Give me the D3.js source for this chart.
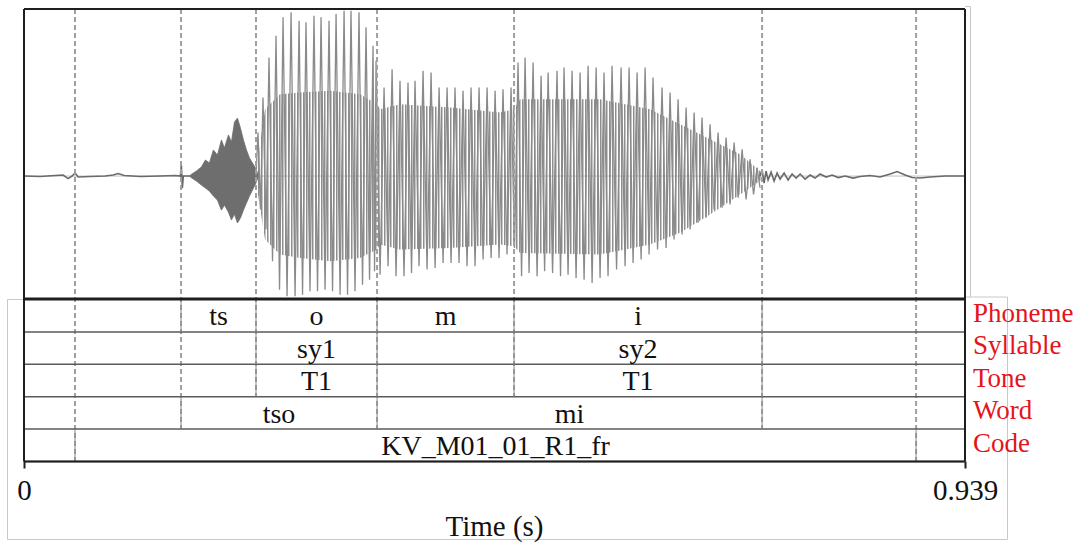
<!DOCTYPE html>
<html>
<head>
<meta charset="utf-8">
<script src="https://cdn.jsdelivr.net/npm/d3@7"></script>
<style>
  body { margin: 0; background: #fff; }
  svg { display: block; font-family: "Liberation Serif", "Times New Roman", serif; }
</style>
</head>
<body>
<svg id="chart" width="1077" height="544"></svg>
<script>
// time axis (s)
let duration = 0.939
let axisTicks = [0, 0.939]

// annotation tiers: boundaries (s) and one label per interval
let tierNames = ["Phoneme", "Syllable", "Tone", "Word", "Code"]
let phonemeBounds = [0.1567, 0.2315, 0.3523, 0.489, 0.7365]
let phonemeLabels = ["", "ts", "o", "m", "i", ""]
let syllableBounds = [0.2315, 0.3523, 0.489, 0.7365]
let syllableLabels = ["", "sy1", "", "sy2", ""]
let toneBounds = [0.2315, 0.3523, 0.489, 0.7365]
let toneLabels = ["", "T1", "", "T1", ""]
let wordBounds = [0.1567, 0.3523, 0.7365]
let wordLabels = ["", "tso", "mi", ""]
let codeBounds = [0.0509, 0.8902]
let codeLabels = ["", "KV_M01_01_R1_fr", ""]

// waveform: leading silence (ms, amplitude)
let leadMs = [0, 16, 31, 39, 44, 48, 51, 54, 66, 81, 89, 94, 100, 116, 136, 151, 156, 157, 158, 159, 166]
let leadAmp = [0, -0.003, 0.003, 0.006, -0.015, 0, 0.018, -0.006, -0.003, 0, 0.006, 0.015, 0.003, -0.003, 0, 0.003, 0, 0.066, -0.072, 0, 0]

// fricative burst envelope (ms, upper, lower)
let burstMs = [166, 172, 177, 181, 185, 189, 193, 197, 200, 204, 207, 210, 213, 216, 219, 222, 225, 228, 231, 233.5]
let burstTop = [0.006, 0.03, 0.054, 0.096, 0.078, 0.156, 0.126, 0.216, 0.168, 0.246, 0.204, 0.323, 0.347, 0.287, 0.216, 0.156, 0.108, 0.078, 0.048, 0.012]
let burstBot = [-0.006, -0.03, -0.054, -0.072, -0.09, -0.12, -0.144, -0.204, -0.174, -0.216, -0.263, -0.228, -0.281, -0.251, -0.204, -0.162, -0.12, -0.084, -0.048, -0.012]

// voiced part: one entry per glottal pulse (ms, peak, following trough)
let pulseMs = [233.5, 238.5, 244.5, 251.5, 258.5, 266.5, 274.5, 281.4, 289.4, 296.4, 304.4, 311.4, 319.4, 326.3, 334.3, 341.3, 348.3, 351.3,
  359.3, 367.3, 375.2, 383.2, 390.2, 398.2, 406.2, 414.2, 422.2, 430.1, 438.1, 446.1, 454.1, 462.1, 470.1, 478.0, 486.0,
  493.0, 500.0, 508.0, 516.0, 523.0, 531.9, 538.9, 546.9, 554.9, 562.9, 570.9, 578.8, 586.8, 595.8, 603.8, 611.8, 619.8,
  627.7, 636.7, 644.7, 652.7, 660.7, 668.7, 676.6, 684.6, 692.6, 700.6, 708.6, 716.6, 724.5, 731.5]
let pulseTop = [0.26, 0.47, 0.71, 0.84, 0.95, 0.98, 0.93, 0.92, 0.96, 0.95, 0.93, 0.97, 0.99, 0.99, 0.98, 0.89, 0.78, 0.69,
  0.53, 0.64, 0.57, 0.56, 0.57, 0.63, 0.62, 0.53, 0.53, 0.53, 0.51, 0.53, 0.53, 0.53, 0.51, 0.52, 0.53,
  0.68, 0.71, 0.68, 0.60, 0.62, 0.63, 0.65, 0.63, 0.62, 0.66, 0.65, 0.62, 0.66, 0.65, 0.65, 0.62, 0.65,
  0.59, 0.53, 0.50, 0.46, 0.41, 0.38, 0.35, 0.31, 0.26, 0.23, 0.20, 0.16, 0.10, 0.05]
let pulseBot = [-0.20, -0.32, -0.51, -0.68, -0.72, -0.72, -0.71, -0.69, -0.69, -0.68, -0.69, -0.71, -0.71, -0.69, -0.65, -0.62, -0.57, -0.59,
  -0.54, -0.60, -0.60, -0.58, -0.54, -0.56, -0.55, -0.52, -0.52, -0.52, -0.54, -0.54, -0.50, -0.49, -0.49, -0.47, -0.43,
  -0.60, -0.58, -0.60, -0.57, -0.58, -0.60, -0.59, -0.61, -0.62, -0.64, -0.61, -0.60, -0.56, -0.54, -0.52, -0.50, -0.47,
  -0.44, -0.43, -0.38, -0.35, -0.32, -0.28, -0.25, -0.20, -0.19, -0.17, -0.13, -0.14, -0.11, -0.07]

// dense inner part of the voiced signal (ms, upper, lower)
let bandMs = [233.5, 240.5, 255.5, 275.5, 305.4, 335.3, 352.3, 355.3, 375.2, 425.1, 475.0, 489.0, 495.0, 574.8, 624.7, 654.7, 684.6, 714.6, 736.5]
let bandTop = [0.10, 0.40, 0.49, 0.50, 0.51, 0.49, 0.43, 0.40, 0.43, 0.41, 0.38, 0.40, 0.46, 0.46, 0.40, 0.31, 0.22, 0.13, 0.02]
let bandBot = [-0.11, -0.38, -0.47, -0.49, -0.51, -0.49, -0.44, -0.41, -0.44, -0.43, -0.41, -0.42, -0.46, -0.47, -0.41, -0.34, -0.23, -0.11, -0.02]

// trailing noise and silence (ms, amplitude)
let tailMs = [734.5, 736.5, 738.5, 740.5, 742.5, 745.5, 748.5, 751.5, 754.5, 758.5, 762.5, 766.5, 770.5, 774.5, 779.4, 784.4, 789.4, 794.4,
  800.4, 806.4, 812.4, 819.4, 827.3, 834.3, 844.3, 854.3, 864.3, 871.3, 879.2, 886.2, 894.2, 904.2, 919.2, 939]
let tailAmp = [0, 0.036, -0.042, 0.03, -0.024, 0.024, -0.03, 0.018, -0.018, 0.018, -0.024, 0.012, -0.012, 0.012, -0.018, 0.006, -0.012, 0.012,
  -0.006, 0.006, -0.009, 0, -0.012, -0.003, 0.003, -0.006, 0.012, 0.027, 0.006, -0.009, -0.012, -0.006, 0, 0]

let svg = d3.select("#chart")

let left = 24, right = 965
let waveTop = 9, waveBottom = 298
let tierTop = 299.5, tierBottom = 461.5

let x = d3.scaleLinear().domain([0, duration]).range([left, right])
let y = d3.scaleLinear().domain([-0.73, 1]).range([waveBottom, waveTop])
let row = d3.scaleBand().domain(tierNames).range([tierTop, tierBottom])

let tierBounds = [phonemeBounds, syllableBounds, toneBounds, wordBounds, codeBounds]
let tierLabels = [phonemeLabels, syllableLabels, toneLabels, wordLabels, codeLabels]
let tiers = tierNames.map(function (name, i) {
  return { name: name, bounds: tierBounds[i], labels: tierLabels[i] }
})

// vertical hatching used to fake the dense oscillation
let defs = svg.append("defs")
let stripes = defs.append("pattern")
  .attr("id", "stripes")
  .attr("patternUnits", "userSpaceOnUse")
  .attr("width", 3).attr("height", 20)
stripes.append("rect").attr("width", 1.5).attr("height", 20).attr("fill", "#8e8e8e")

// light frames of the pasted pictures
let frame = svg.append("g").attr("stroke", "#c8c8c8").attr("stroke-width", 1).attr("fill", "none")
frame.append("path").attr("d", "M965,6.5H970.5V297")
frame.append("path").attr("d", "M24,299.5H7.5V539.5H1007.5V297H965")

// zero line
svg.append("line")
  .attr("x1", left).attr("x2", right)
  .attr("y1", y(0)).attr("y2", y(0))
  .attr("stroke", "#b0b0b0").attr("stroke-width", 0.8)

let wave = svg.append("g")
let ms = function (v) { return x(v / 1000) }

// dense band
let band = d3.area()
  .x(function (d, i) { return ms(bandMs[i]) })
  .y0(function (d, i) { return y(bandBot[i]) })
  .y1(function (d, i) { return y(bandTop[i]) })
wave.append("path").attr("d", band(bandMs)).attr("fill", "url(#stripes)")

// burst
let burst = d3.area()
  .x(function (d, i) { return ms(burstMs[i]) })
  .y0(function (d, i) { return y(burstBot[i]) })
  .y1(function (d, i) { return y(burstTop[i]) })
wave.append("path").attr("d", burst(burstMs)).attr("fill", "#6e6e6e").attr("stroke", "#6e6e6e").attr("stroke-width", 0.8)

let line = d3.line().x(function (d) { return d[0] }).y(function (d) { return d[1] })

// leading silence
let lead = leadMs.map(function (t, i) { return [ms(t), y(leadAmp[i])] })
wave.append("path").attr("d", line(lead)).attr("fill", "none").attr("stroke", "#6a6a6a").attr("stroke-width", 1.6)

// pulses: peak, then trough half way to the next peak
let pts = [[ms(pulseMs[0] - 2), y(0)]]
pulseMs.forEach(function (t, i) {
  let next = i < pulseMs.length - 1 ? pulseMs[i + 1] : t + 6
  pts.push([ms(t), y(pulseTop[i])])
  pts.push([ms((t + next) / 2), y(pulseBot[i])])
})
wave.append("path").attr("d", line(pts)).attr("fill", "none").attr("stroke", "#8a8a8a").attr("stroke-width", 1.3)

// tail
let tail = tailMs.map(function (t, i) { return [ms(t), y(tailAmp[i])] })
wave.append("path").attr("d", line(tail)).attr("fill", "none").attr("stroke", "#6a6a6a").attr("stroke-width", 1.6)

// dashed boundary lines, down to the lowest tier that holds the boundary
let allBounds = []
tiers.forEach(function (tier, i) {
  tier.bounds.forEach(function (b) {
    let found = allBounds.find(function (a) { return a.t === b })
    if (found) found.last = Math.max(found.last, i)
    else allBounds.push({ t: b, last: i })
  })
})
svg.append("g").selectAll("line")
  .data(allBounds)
  .enter()
  .append("line")
  .attr("x1", function (d) { return x(d.t) })
  .attr("x2", function (d) { return x(d.t) })
  .attr("y1", waveTop)
  .attr("y2", function (d) { return row(tierNames[d.last]) + row.bandwidth() })
  .attr("stroke", "#a0a0a0")
  .attr("stroke-width", 2)
  .attr("stroke-dasharray", "5,3")

// tiers
let tierG = svg.append("g").selectAll("g")
  .data(tiers)
  .enter()
  .append("g")
  .attr("transform", function (d) { return "translate(0," + row(d.name) + ")" })

tierG.append("line")
  .attr("x1", left).attr("x2", right)
  .attr("y1", row.bandwidth()).attr("y2", row.bandwidth())
  .attr("stroke", "#5a5a5a").attr("stroke-width", 1.5)

tierG.selectAll(".bound")
  .data(function (d) { return d.bounds })
  .enter()
  .append("line")
  .attr("class", "bound")
  .attr("x1", function (d) { return x(d) })
  .attr("x2", function (d) { return x(d) })
  .attr("y1", 0).attr("y2", row.bandwidth())
  .attr("stroke", "#8a8a8a").attr("stroke-width", 1)

tierG.selectAll(".lab")
  .data(function (d) {
    let edges = [0].concat(d.bounds, [duration])
    return d.labels.map(function (l, i) { return { text: l, a: edges[i], b: edges[i + 1] } })
      .filter(function (e) { return e.text !== "" })
  })
  .enter()
  .append("text")
  .attr("class", "lab")
  .attr("x", function (d) { return x((d.a + d.b) / 2) })
  .attr("y", row.bandwidth() - 6.5)
  .attr("text-anchor", "middle")
  .attr("font-size", 28)
  .attr("fill", "#111")
  .text(function (d) { return d.text })

// tier names in red
tierG.append("text")
  .attr("x", 973)
  .attr("y", row.bandwidth() - 10)
  .attr("font-size", 27)
  .attr("fill", "#e5131b")
  .text(function (d) { return d.name })

// borders
let border = svg.append("g").attr("stroke", "#1e1e1e").attr("fill", "none")
border.append("line").attr("x1", left).attr("x2", right).attr("y1", waveTop).attr("y2", waveTop).attr("stroke-width", 2)
border.append("line").attr("x1", left).attr("x2", right).attr("y1", tierTop - 0.5).attr("y2", tierTop - 0.5).attr("stroke-width", 3)
border.append("line").attr("x1", left).attr("x2", right).attr("y1", tierBottom).attr("y2", tierBottom).attr("stroke-width", 2)
border.append("line").attr("x1", left).attr("x2", left).attr("y1", waveTop).attr("y2", tierBottom).attr("stroke-width", 2)
border.append("line").attr("x1", right).attr("x2", right).attr("y1", waveTop).attr("y2", tierBottom).attr("stroke-width", 2)

// time axis
let axis = d3.axisBottom(x)
  .tickValues(axisTicks)
  .tickSize(7)
  .tickSizeOuter(0)
  .tickFormat(function (d) { return d === 0 ? "0" : d3.format(".3f")(d) })

let gAxis = svg.append("g")
  .attr("transform", "translate(0," + tierBottom + ")")
  .call(axis)
  .attr("font-family", null)
  .attr("font-size", null)
gAxis.select(".domain").remove()
gAxis.selectAll(".tick line").attr("stroke", "#1e1e1e").attr("stroke-width", 2)
gAxis.selectAll(".tick text")
  .attr("y", 38.5).attr("dy", null)
  .attr("font-size", 29)
  .attr("fill", "#111")

svg.append("text")
  .attr("x", (left + right) / 2)
  .attr("y", 536)
  .attr("text-anchor", "middle")
  .attr("font-size", 29)
  .attr("fill", "#111")
  .text("Time (s)")
</script>
</body>
</html>
